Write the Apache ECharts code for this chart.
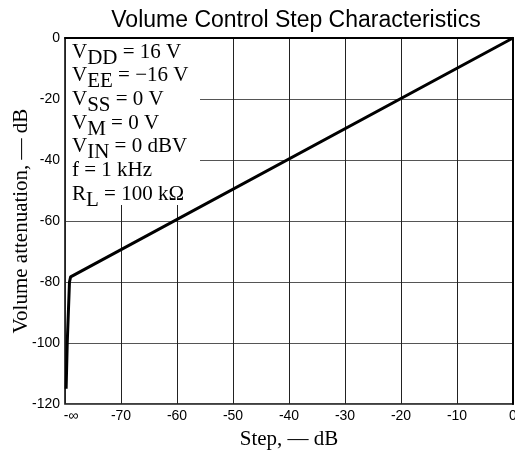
<!DOCTYPE html>
<html>
<head>
<meta charset="utf-8">
<script src="https://cdn.jsdelivr.net/npm/echarts@6/dist/echarts.min.js"></script>
<style>
  html, body { margin: 0; padding: 0; background: #fff; }
  #chart { width: 515px; height: 454px; }
</style>
</head>
<body>
<div id="chart"></div>
<script>
// step setting (dB, -80 stands for -inf) vs measured attenuation (dB)
const stepValues = [-79.8, -79.6, -79.2, -79, 0]
const attenuation = [-115, -100, -80, -78.3, 0]
const xTicks = { '-80': '{inf|-\u221e}' }

// test conditions box: [main, sub, rest]
const conditions = [
  ['V', 'DD', ' = 16 V'],
  ['V', 'EE', ' = \u221216 V'],
  ['V', 'SS', ' = 0 V'],
  ['V', 'M', ' = 0 V'],
  ['V', 'IN', ' = 0 dBV'],
  ['f = 1 kHz', '', ''],
  ['R', 'L', ' = 100 k\u03a9']
]

const chart = echarts.init(document.getElementById('chart'))

const serif = '"Liberation Serif", "DejaVu Serif", serif'
const sans = '"Liberation Sans", Arial, sans-serif'

const condText = conditions.map((c, i) => {
  let t = '{m|' + c[0] + '}'
  if (c[1]) t += '{s|' + c[1] + '}'
  if (c[2]) t += '{m|' + c[2] + '}'
  return {
    type: 'text',
    left: 72,
    top: 41.5 + i * 23.7,
    z: 110,
    style: {
      text: t,
      rich: {
        m: { fontFamily: serif, fontSize: 21, verticalAlign: 'top', fill: '#000' },
        s: { fontFamily: serif, fontSize: 21, padding: [6, 0, 0, 0], verticalAlign: 'top', fill: '#000' }
      }
    }
  }
})

chart.setOption({
  animation: false,
  title: {
    text: 'Volume Control Step Characteristics',
    left: 291,
    top: 4,
    textAlign: 'center',
    textStyle: { fontFamily: sans, fontSize: 23, fontWeight: 'normal', color: '#000' }
  },
  grid: {
    left: 65,
    right: 2,
    top: 38,
    bottom: 50,
    outerBoundsMode: 'none',
    show: true,
    borderColor: '#000',
    borderWidth: 1.5
  },
  xAxis: {
    type: 'value',
    min: -80,
    max: 0,
    interval: 10,
    name: 'Step, \u2014 dB',
    nameLocation: 'middle',
    nameGap: 25,
    nameMoveOverlap: false,
    nameTextStyle: { fontFamily: serif, fontSize: 21, color: '#000' },
    axisLine: { lineStyle: { color: '#000', width: 2 } },
    axisTick: { show: false },
    axisLabel: {
      margin: 5,
      fontFamily: sans,
      fontSize: 14,
      color: '#000',
      formatter: v => xTicks[v] || String(v),
      rich: {
        inf: { fontFamily: sans, fontSize: 14, color: '#000', padding: [0, 0, 0, 12] }
      }
    },
    splitLine: { lineStyle: { color: '#222', width: 1 } }
  },
  yAxis: {
    type: 'value',
    min: -120,
    max: 0,
    interval: 20,
    name: 'Volume attenuation, \u2014 dB',
    nameLocation: 'middle',
    nameGap: 33,
    nameMoveOverlap: false,
    nameTextStyle: { fontFamily: serif, fontSize: 21, color: '#000' },
    axisLine: { lineStyle: { color: '#000', width: 2 } },
    axisTick: { show: false },
    axisLabel: { margin: 5, fontFamily: sans, fontSize: 14, color: '#000' },
    splitLine: { lineStyle: { color: '#555', width: 1 } }
  },
  graphic: [
    {
      type: 'rect',
      shape: { x: 66, y: 39, width: 134, height: 166 },
      style: { fill: '#fff' },
      z: 100
    }
  ].concat(condText),
  series: [
    {
      type: 'line',
      data: stepValues.map((x, i) => [x, attenuation[i]]),
      symbol: 'none',
      lineStyle: { color: '#000', width: 3 },
      z: 120
    }
  ]
})
</script>
</body>
</html>
